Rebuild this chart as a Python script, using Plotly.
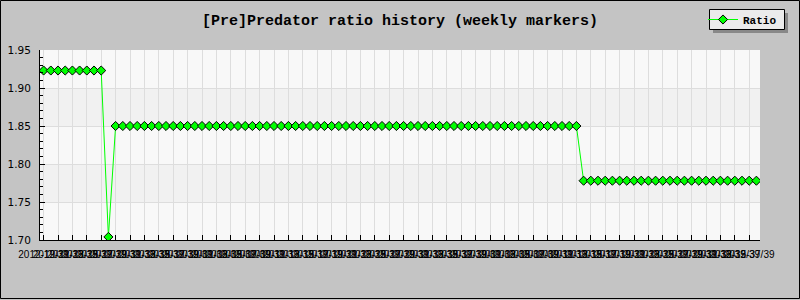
import plotly.graph_objects as go

# ---- data ----
ratio = [1.923] * 9 + [1.704] + [1.85] * 65 + [1.778] * 25
x_index = list(range(len(ratio)))
tick_index = x_index[::2]
tick_labels = [f"2012-{(2 * k + 19) % 40:02d}/39" for k in range(len(tick_index))]
y_ticks = [1.70, 1.75, 1.80, 1.85, 1.90, 1.95]

W, H = 800, 300
ML, MR, MT, MB = 40, 40, 50, 60
PW, PH = W - ML - MR, H - MT - MB


def px_x(p):
    return (p - ML) / PW


def px_y(p):
    return (H - MB - p) / PH


fig = go.Figure()
fig.add_trace(go.Scatter(
    x=x_index, y=ratio, mode="lines+markers", name="<b>Ratio</b>",
    line=dict(color="#00ff00", width=1),
    marker=dict(symbol="diamond", size=7, color="#00ff00",
                line=dict(color="#000000", width=1)),
))

shapes = []
# alternating grid bands
for lo, hi in [(1.85, 1.90), (1.75, 1.80)]:
    shapes.append(dict(type="rect", xref="x domain", yref="y", x0=0, x1=1,
                       y0=lo, y1=hi, fillcolor="#f1f1f1", line=dict(width=0),
                       layer="below"))
# outer frame
shapes.append(dict(type="rect", xref="paper", yref="paper",
                   x0=px_x(0.5), x1=px_x(799.5), y0=px_y(298.5), y1=px_y(0.5),
                   line=dict(color="#000000", width=1), fillcolor="rgba(0,0,0,0)",
                   layer="above"))
# legend shadow and box
shapes.append(dict(type="rect", xref="paper", yref="paper",
                   x0=px_x(713), x1=px_x(788), y0=px_y(33), y1=px_y(13),
                   line=dict(width=0), fillcolor="#888888", layer="above"))
shapes.append(dict(type="rect", xref="paper", yref="paper",
                   x0=px_x(709.5), x1=px_x(784.5), y0=px_y(29.5), y1=px_y(9.5),
                   line=dict(color="#000000", width=1), fillcolor="#ebebeb",
                   layer="above"))

fig.update_layout(
    width=W, height=H, autosize=False,
    margin=dict(l=ML, r=MR, t=MT, b=MB, pad=0),
    paper_bgcolor="#c4c4c4", plot_bgcolor="#f8f8f8",
    title=dict(text="<b>[Pre]Predator ratio history (weekly markers)</b>",
               x=0.5, xanchor="center", xref="paper", y=1 - 20 / H, yanchor="middle",
               font=dict(family="Liberation Mono", size=15, color="#000000")),
    showlegend=True,
    legend=dict(xref="paper", yref="container",
                x=px_x(703), y=1 - 5 / H, xanchor="left", yanchor="top",
                bgcolor="rgba(0,0,0,0)", borderwidth=0,
                font=dict(family="Liberation Mono", size=11, color="#000000"),
                itemwidth=30),
    shapes=shapes,
    xaxis=dict(range=[-0.5, len(ratio) - 0.5], tickmode="array",
               tickvals=tick_index, ticktext=tick_labels, tickangle=0,
               ticks="inside", ticklen=5, tickcolor="#000000",
               showline=True, linecolor="#000000", linewidth=1,
               showgrid=True, gridcolor="#dddddd", gridwidth=1,
               zeroline=False, ticklabelstandoff=5, automargin=False,
               tickfont=dict(family="Liberation Sans", size=10, color="#000000")),
    yaxis=dict(range=[1.70, 1.95], tickmode="array", tickvals=y_ticks,
               ticktext=[f"{v:.2f}" for v in y_ticks],
               ticks="inside", ticklen=5, tickcolor="#000000",
               minor=dict(ticks="inside", ticklen=3, dtick=0.01, tick0=1.70,
                          tickcolor="#000000", showgrid=False),
               showline=True, linecolor="#000000", linewidth=1,
               showgrid=True, gridcolor="#dddddd", gridwidth=1,
               zeroline=False, ticklabelstandoff=6, automargin=False,
               tickfont=dict(family="DejaVu Sans", size=10.5, color="#000000")),
)

fig.write_html("out.html")
